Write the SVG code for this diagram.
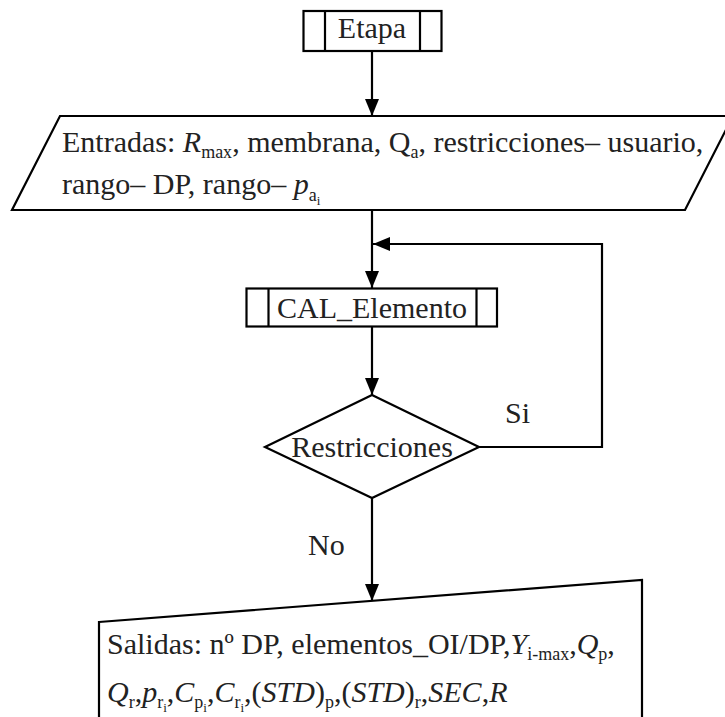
<svg xmlns="http://www.w3.org/2000/svg" width="725" height="717" viewBox="0 0 725 717">
<defs>
<marker id="arr" viewBox="0 0 17 14" refX="17" refY="7" markerWidth="17" markerHeight="14" markerUnits="userSpaceOnUse" orient="auto">
<path d="M0,0 L17,7 L0,14 Z" fill="#000"/>
</marker>
</defs>
<style>
.s{fill:#fff;stroke:#000;stroke-width:2.2}
.l{fill:none;stroke:#000;stroke-width:2.2}
.c{fill:none;stroke:#000;stroke-width:2.2;marker-end:url(#arr)}
text{font-family:"Liberation Serif","Times New Roman",serif;font-size:30px;fill:#222}
.it{font-style:italic}
.sb{font-size:18px}
.ss{font-size:13px}
</style>
<rect width="725" height="717" fill="#fff"/>
<g id="connectors">
<path class="c" d="M372,51 L372,116"/>
<path class="c" d="M372,210 L372,288"/>
<path class="c" d="M372,327 L372,395"/>
<path class="c" d="M479,447 L602,447 L602,244 L373,244"/>
<path class="c" d="M372,498 L372,601"/>
<text x="505" y="423">Si</text>
<text x="308" y="555">No</text>
</g>
<g id="etapa">
<rect class="s" x="303.5" y="11" width="138" height="40"/>
<path class="l" d="M325,11 V51 M420,11 V51"/>
<text x="372" y="38" text-anchor="middle">Etapa</text>
</g>
<g id="entradas">
<polygon class="s" points="60,116 733,116 685,210 12,210"/>
<text x="62" y="152">Entradas: <tspan class="it">R</tspan><tspan class="sb" dy="6">max</tspan><tspan dy="-6">, membrana, Q</tspan><tspan class="sb" dy="6">a</tspan><tspan dy="-6">, restricciones– usuario,</tspan></text>
<text x="62" y="194">rango– DP, rango– <tspan class="it">p</tspan><tspan class="sb" dy="7">a</tspan><tspan class="ss" dy="4">i</tspan></text>
</g>
<g id="cal">
<rect class="s" x="246.5" y="288.5" width="250.5" height="38"/>
<path class="l" d="M268.5,288.5 V326.5 M476.5,288.5 V326.5"/>
<text x="372" y="318" text-anchor="middle">CAL_Elemento</text>
</g>
<g id="restricciones">
<polygon class="s" points="372,395 479,447 372,498 265,447"/>
<text x="372" y="457" text-anchor="middle">Restricciones</text>
</g>
<g id="salidas">
<polygon class="s" points="99,622 642,580 642,725 99,725"/>
<text x="107" y="654">Salidas: nº DP, elementos_OI/DP,<tspan class="it">Y</tspan><tspan class="sb" dy="6">i-max</tspan><tspan dy="-6">,</tspan><tspan class="it">Q</tspan><tspan class="sb" dy="6">p</tspan><tspan dy="-6">,</tspan></text>
<text x="107" y="702"><tspan class="it">Q</tspan><tspan class="sb" dy="6">r</tspan><tspan dy="-6">,</tspan><tspan class="it">p</tspan><tspan class="sb" dy="6">r</tspan><tspan class="ss" dy="4">i</tspan><tspan dy="-10">,</tspan><tspan class="it">C</tspan><tspan class="sb" dy="6">p</tspan><tspan class="ss" dy="4">i</tspan><tspan dy="-10">,</tspan><tspan class="it">C</tspan><tspan class="sb" dy="6">r</tspan><tspan class="ss" dy="4">i</tspan><tspan dy="-10">,(</tspan><tspan class="it">STD</tspan><tspan>)</tspan><tspan class="sb" dy="6">p</tspan><tspan dy="-6">,(</tspan><tspan class="it">STD</tspan><tspan>)</tspan><tspan class="sb" dy="6">r</tspan><tspan dy="-6">,</tspan><tspan class="it">SEC</tspan><tspan>,</tspan><tspan class="it">R</tspan></text>
</g>
</svg>
